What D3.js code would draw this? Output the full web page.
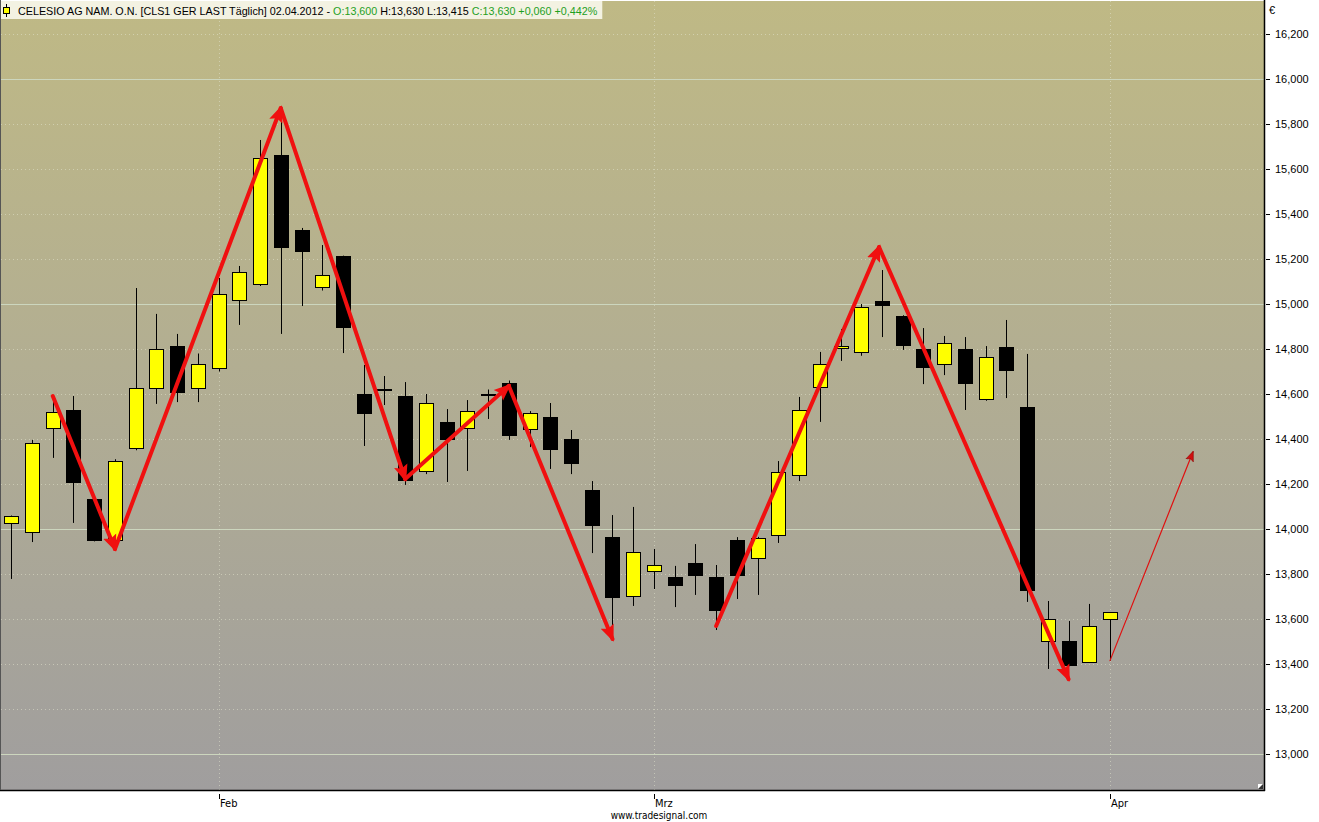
<!DOCTYPE html>
<html><head><meta charset="utf-8">
<script src="https://cdn.jsdelivr.net/npm/d3@7"></script>
<style>body{margin:0;background:#fff;} svg{display:block}</style>
</head><body><svg id="c" width="1319" height="822"></svg>
<script>
// ---- data ----
const dates = ["2012-01-18","2012-01-19","2012-01-20","2012-01-23","2012-01-24","2012-01-25","2012-01-26","2012-01-27","2012-01-30","2012-01-31",
"2012-02-01","2012-02-02","2012-02-03","2012-02-06","2012-02-07","2012-02-08","2012-02-09","2012-02-10","2012-02-13","2012-02-14","2012-02-15","2012-02-16","2012-02-17","2012-02-20","2012-02-21","2012-02-22","2012-02-23","2012-02-24","2012-02-27","2012-02-28","2012-02-29",
"2012-03-01","2012-03-02","2012-03-05","2012-03-06","2012-03-07","2012-03-08","2012-03-09","2012-03-12","2012-03-13","2012-03-14","2012-03-15","2012-03-16","2012-03-19","2012-03-20","2012-03-21","2012-03-22","2012-03-23","2012-03-26","2012-03-27","2012-03-28","2012-03-29","2012-03-30",
"2012-04-02"];
const open  = [14.027,13.987,14.449,14.529,14.133,13.951,14.360,14.627,14.813,14.627,14.716,15.018,15.089,15.662,15.329,15.076,15.213,14.600,14.622,14.591,14.258,14.476,14.449,14.600,14.649,14.444,14.498,14.400,14.173,13.964,13.702,13.813,13.787,13.849,13.787,13.951,13.871,13.973,14.240,14.631,14.804,14.787,15.013,14.947,14.800,14.733,14.800,14.578,14.809,14.542,13.502,13.502,13.409,13.600];
const high  = [14.060,14.396,14.587,14.591,14.140,14.310,15.071,14.956,14.867,14.780,15.116,15.169,15.729,15.818,15.338,15.262,15.215,14.729,14.680,14.653,14.600,14.533,14.573,14.620,14.660,14.524,14.560,14.440,14.213,14.062,14.098,13.911,13.836,13.933,13.840,13.964,13.965,14.302,14.587,14.787,14.889,15.000,15.151,14.950,14.893,14.858,14.853,14.813,14.929,14.778,13.680,13.591,13.667,13.630];
const low   = [13.778,13.942,14.316,14.027,13.945,13.940,14.350,14.556,14.564,14.564,14.700,14.907,15.080,14.867,14.991,15.060,14.782,14.369,14.551,14.196,14.244,14.209,14.258,14.489,14.396,14.364,14.267,14.244,13.893,13.511,13.658,13.733,13.653,13.707,13.551,13.689,13.707,13.938,14.213,14.476,14.747,14.770,14.853,14.796,14.644,14.684,14.529,14.570,14.582,13.676,13.378,13.390,13.405,13.415];
const close = [14.058,14.382,14.520,14.209,13.951,14.302,14.627,14.800,14.609,14.733,15.044,15.142,15.649,15.253,15.236,15.129,14.898,14.516,14.622,14.218,14.560,14.400,14.524,14.600,14.418,14.516,14.356,14.293,14.018,13.698,13.898,13.840,13.751,13.796,13.640,13.796,13.960,14.253,14.529,14.733,14.813,14.987,14.996,14.818,14.720,14.827,14.649,14.764,14.707,13.729,13.600,13.396,13.570,13.630];
const yTicks = [13.0,13.2,13.4,13.6,13.8,14.0,14.2,14.4,14.6,14.8,15.0,15.2,15.4,15.6,15.8,16.0,16.2];
const monthLabels = ["Feb","Mrz","Apr"];
const monthIndex = [10,31,53];
// zigzag wave points [bar index, price]
const wave1 = [[2,14.591],[5,13.911],[13,15.871],[19,14.222],[24,14.636],[29,13.511]];
const wave2 = [[34,13.569],[41.86,15.253],[51,13.333]];
const projection = [[53,13.415],[57,14.342]];

// ---- layout ----
const W = 1319, H = 822;
const P = {l:1, t:1, r:1264, b:790};
const svg = d3.select("#c");
const de = d3.formatLocale({decimal:",", thousands:".", grouping:[3], currency:["","€"]});
const fmt = de.format(".3f");

const x = d3.scaleLinear().domain([0, 53]).range([11.3, 1110]);
const y = d3.scaleLinear().domain([13.0, 16.2]).range([754, 34]);

const defs = svg.append("defs");
const g = defs.append("linearGradient").attr("id","bg").attr("x1",0).attr("y1",0).attr("x2",0).attr("y2",1);
g.append("stop").attr("offset","0%").attr("stop-color","#BFB985");
g.append("stop").attr("offset","50%").attr("stop-color","#B1AD93");
g.append("stop").attr("offset","100%").attr("stop-color","#A09E9E");
defs.append("clipPath").attr("id","clip").append("rect")
  .attr("x",P.l).attr("y",P.t).attr("width",P.r-P.l).attr("height",P.b-P.t);

const mk = defs.append("marker").attr("id","ah").attr("markerUnits","userSpaceOnUse")
  .attr("viewBox","0 -8 17 16").attr("refX",14).attr("refY",0)
  .attr("markerWidth",17).attr("markerHeight",16).attr("orient","auto");
mk.append("path").attr("d","M0,-7L17,0L0,7L3,0Z").attr("fill","#F01010");
const mk2 = defs.append("marker").attr("id","ah2").attr("markerUnits","userSpaceOnUse")
  .attr("viewBox","0 -5 10 10").attr("refX",9).attr("refY",0)
  .attr("markerWidth",10).attr("markerHeight",10).attr("orient","auto");
mk2.append("path").attr("d","M0,-4L10,0L0,4L2,0Z").attr("fill","#D01010").attr("stroke","#800").attr("stroke-width",0.5);

// background
svg.append("rect").attr("width",W).attr("height",H).attr("fill","#fff");
svg.append("rect").attr("x",P.l).attr("y",P.t).attr("width",P.r-P.l).attr("height",P.b-P.t).attr("fill","url(#bg)");

const plot = svg.append("g").attr("clip-path","url(#clip)");

// grid
plot.selectAll("line.hg").data(yTicks).join("line")
  .attr("x1",P.l).attr("x2",P.r)
  .attr("y1",d=>Math.round(y(d))+0.5).attr("y2",d=>Math.round(y(d))+0.5)
  .attr("stroke", d=> Math.abs(d-Math.round(d))<1e-6 ? "#CCD6BE" : "rgba(225,228,205,0.55)")
  .attr("stroke-dasharray", d=> Math.abs(d-Math.round(d))<1e-6 ? null : "1,3");
plot.selectAll("line.vg").data(monthIndex).join("line")
  .attr("y1",P.t).attr("y2",P.b)
  .attr("x1",d=>Math.round(x(d))+0.5).attr("x2",d=>Math.round(x(d))+0.5)
  .attr("stroke","rgba(225,228,205,0.55)").attr("stroke-dasharray","1,3");

// candles
const bw = 14;
const idx = d3.range(dates.length);
const cg = plot.append("g");
cg.selectAll("line.w").data(idx).join("line")
  .attr("x1",i=>Math.round(x(i))+0.5).attr("x2",i=>Math.round(x(i))+0.5)
  .attr("y1",i=>y(high[i])).attr("y2",i=>y(low[i]))
  .attr("stroke","#000").attr("stroke-width",1);
cg.selectAll("rect.b").data(idx).join("rect")
  .attr("x",i=>Math.round(x(i))-bw/2+0.5)
  .attr("y",i=>Math.round(y(Math.max(open[i],close[i])))+0.5)
  .attr("width",bw)
  .attr("height",i=>Math.max(1,Math.round(Math.abs(y(open[i])-y(close[i])))))
  .attr("fill",i=> close[i]>open[i] ? "#FFFF00" : "#000")
  .attr("stroke","#000").attr("stroke-width",1);

// waves
function arrows(pts, cls, w, marker, color){
  const segs = d3.pairs(pts);
  plot.selectAll("line."+cls).data(segs).join("line").attr("class",cls)
    .attr("x1",d=>x(d[0][0])).attr("y1",d=>y(d[0][1]))
    .attr("x2",d=>x(d[1][0])).attr("y2",d=>y(d[1][1]))
    .attr("stroke",color).attr("stroke-width",w).attr("stroke-linecap","round")
    .attr("marker-end","url(#"+marker+")");
}
arrows(wave1,"w1",4,"ah","#F01010");
arrows(wave2,"w2",4,"ah","#F01010");
arrows(projection,"pr",1.2,"ah2","#E01010");

// border
svg.append("line").attr("x1",P.r+0.5).attr("x2",P.r+0.5).attr("y1",0).attr("y2",P.b+1).attr("stroke","#000").attr("stroke-width",1.5);
svg.append("line").attr("x1",0).attr("x2",P.r+1).attr("y1",P.b+0.5).attr("y2",P.b+0.5).attr("stroke","#000").attr("stroke-width",1.5);
svg.append("line").attr("x1",0.5).attr("x2",0.5).attr("y1",0).attr("y2",P.b).attr("stroke","#555");
// corner glyph
svg.append("rect").attr("x",P.r-6).attr("y",P.b-6).attr("width",5).attr("height",5).attr("fill","#fff");
svg.append("path").attr("d",`M${P.r-6},${P.b-1}L${P.r-1},${P.b-6}L${P.r-1},${P.b-1}Z`).attr("fill","#333");

// header
const hbg = svg.append("rect").attr("x",1).attr("y",1).attr("width",602).attr("height",18).attr("fill","#F3F2E2");
svg.append("line").attr("x1",6.5).attr("x2",6.5).attr("y1",4).attr("y2",17).attr("stroke","#000");
svg.append("rect").attr("x",3.5).attr("y",7.5).attr("width",6).attr("height",6).attr("fill","#FFFF00").attr("stroke","#000");
const ht = svg.append("text").attr("x",18).attr("y",14.5)
  .attr("font-family","'Liberation Sans', Arial, sans-serif").attr("font-size",10.75).attr("fill","#000");
const iL = dates.length-1;
const chg = close[iL]-close[iL-1];
ht.append("tspan").text("CELESIO AG NAM. O.N. [CLS1 GER LAST Täglich] 02.04.2012 - ");
ht.append("tspan").attr("fill","#1EA01E").text("O:"+fmt(open[iL]));
ht.append("tspan").text(" H:"+fmt(high[iL])+" L:"+fmt(low[iL])+" ");
ht.append("tspan").attr("fill","#1EA01E").text("C:"+fmt(close[iL])+" +"+fmt(chg)+" +"+de.format(".3f")(chg/close[iL-1]*100)+"%");
hbg.attr("width", ht.node().getComputedTextLength()+22);

// right axis
const ax = svg.append("g").attr("font-family","'Liberation Sans', Arial, sans-serif").attr("font-size",11).attr("fill","#000");
ax.append("text").attr("x",1269).attr("y",14).text("€");
ax.selectAll("line").data(yTicks).join("line")
  .attr("x1",1266).attr("x2",1270).attr("y1",d=>Math.round(y(d))+0.5).attr("y2",d=>Math.round(y(d))+0.5)
  .attr("stroke","#000");
ax.selectAll("text.t").data(yTicks).join("text").attr("class","t")
  .attr("x",1275).attr("y",d=>y(d)+4).text(d=>fmt(d));

// bottom axis
const bx = svg.append("g").attr("font-family","'Liberation Sans Narrow','DejaVu Sans Condensed',sans-serif").attr("font-size",11).attr("fill","#000");
bx.selectAll("line").data(monthIndex).join("line")
  .attr("x1",i=>Math.round(x(i))+0.5).attr("x2",i=>Math.round(x(i))+0.5)
  .attr("y1",794).attr("y2",799).attr("stroke","#000");
bx.selectAll("text").data(monthIndex).join("text")
  .attr("x",i=>Math.round(x(i))+1).attr("y",807).text((i,k)=>monthLabels[k]);
svg.append("text").attr("x",659).attr("y",819).attr("text-anchor","middle")
  .attr("font-family","'Liberation Sans Narrow','DejaVu Sans Condensed',sans-serif").attr("font-size",10).text("www.tradesignal.com");
</script></body></html>
